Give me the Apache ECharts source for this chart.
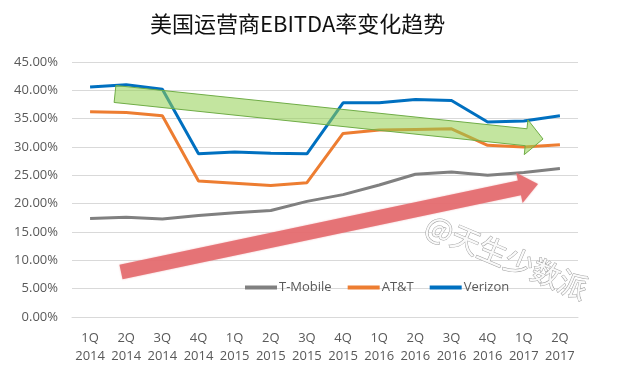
<!DOCTYPE html>
<html>
<head>
<meta charset="utf-8">
<script src="https://cdn.jsdelivr.net/npm/echarts@6/dist/echarts.min.js"></script>
<style>
  html, body { margin: 0; padding: 0; background: #fff; }
  #chart { width: 640px; height: 375px; }
</style>
</head>
<body>
<div id="chart"></div>
<script>
const quarters = ['1Q\n2014', '2Q\n2014', '3Q\n2014', '4Q\n2014', '1Q\n2015', '2Q\n2015', '3Q\n2015',
    '4Q\n2015', '1Q\n2016', '2Q\n2016', '3Q\n2016', '4Q\n2016', '1Q\n2017', '2Q\n2017'];
const tMobile = [17.4, 17.6, 17.3, 17.9, 18.4, 18.8, 20.4, 21.6, 23.3, 25.2, 25.6, 25.0, 25.5, 26.2];
const att = [36.2, 36.1, 35.5, 24.0, 23.6, 23.2, 23.7, 32.4, 33.0, 33.1, 33.2, 30.3, 30.0, 30.4];
const verizon = [40.6, 41.0, 40.2, 28.8, 29.1, 28.9, 28.8, 37.8, 37.8, 38.4, 38.2, 34.4, 34.6, 35.5];

const chart = echarts.init(document.getElementById('chart'));

// arrow polygon from a centre line (decoration only)
function arrow(x1, y1, x2, y2, w, hw, hl) {
    const dx = x2 - x1, dy = y2 - y1;
    const len = Math.sqrt(dx * dx + dy * dy);
    const ux = dx / len, uy = dy / len;
    const nx = -uy, ny = ux;
    const bx = x2 - ux * hl, by = y2 - uy * hl;
    return [
        [x1 + nx * w / 2, y1 + ny * w / 2],
        [bx + nx * w / 2, by + ny * w / 2],
        [bx + nx * hw / 2, by + ny * hw / 2],
        [x2, y2],
        [bx - nx * hw / 2, by - ny * hw / 2],
        [bx - nx * w / 2, by - ny * w / 2],
        [x1 - nx * w / 2, y1 - ny * w / 2]
    ];
}

const font = '"Open Sans", "Noto Sans CJK SC", sans-serif';

const option = {
    backgroundColor: '#fff',
    animation: false,
    title: {
        text: '美国运营商EBITDA率变化趋势',
        left: 145,
        top: 8,
        textStyle: { fontSize: 22, fontWeight: 'normal', color: '#111', fontFamily: '"Noto Sans CJK SC", sans-serif' }
    },
    grid: { left: 72, right: 62, top: 62, bottom: 58 },
    legend: {
        data: ['T-Mobile', 'AT&T', 'Verizon'],
        left: 240,
        top: 276,
        itemWidth: 32,
        itemHeight: 4,
        itemGap: 16,
        icon: 'rect',
        textStyle: { color: '#595959', fontSize: 13, fontFamily: font, padding: [0, 0, 0, -3] }
    },
    xAxis: {
        type: 'category',
        data: quarters,
        axisLine: { lineStyle: { color: '#d9d9d9' } },
        axisTick: { show: false },
        axisLabel: { color: '#595959', fontSize: 13, lineHeight: 18, margin: 12, fontFamily: font, interval: 0 }
    },
    yAxis: {
        type: 'value',
        min: 0,
        max: 45,
        interval: 5,
        axisLine: { show: false },
        axisTick: { show: false },
        splitLine: { lineStyle: { color: '#d9d9d9' } },
        axisLabel: { color: '#595959', fontSize: 13, margin: 14, fontFamily: font,
            formatter: v => v.toFixed(2) + '%' }
    },
    series: [
        { name: 'T-Mobile', type: 'line', data: tMobile, symbol: 'none', color: '#808080', lineStyle: { width: 3 } },
        { name: 'AT&T', type: 'line', data: att, symbol: 'none', color: '#ed7d31', lineStyle: { width: 3 } },
        { name: 'Verizon', type: 'line', data: verizon, symbol: 'none', color: '#0070c0', lineStyle: { width: 3 } }
    ],
    graphic: [
        {
            type: 'polygon', z: 100,
            shape: { points: arrow(115, 94, 543, 139, 17, 35, 17) },
            style: { fill: 'rgba(146,208,80,0.55)', stroke: '#70ad47', lineWidth: 1 }
        },
        {
            type: 'polygon', z: 100,
            shape: { points: arrow(121, 272, 538, 184, 15, 31, 19) },
            style: { fill: 'rgba(228,108,112,0.92)', shadowBlur: 2, shadowColor: 'rgba(228,108,112,0.5)' }
        },
        {
            type: 'text', z: 100,
            x: 433, y: 210,
            rotation: -0.4,
            style: { text: '@天生少数派', fontSize: 29, fontFamily: '"Noto Sans CJK SC", sans-serif',
                fill: '#fafafa', stroke: '#a0a0a0', lineWidth: 1 }
        }
    ]
};

chart.setOption(option);
</script>
</body>
</html>
